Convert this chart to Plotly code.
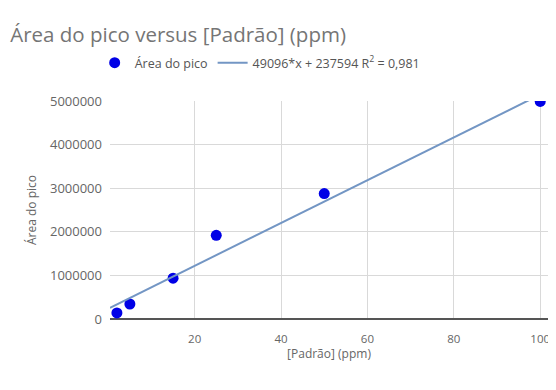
import plotly.graph_objects as go

concentracao = [2, 5, 15, 25, 50, 100]
area_pico = [138000, 344000, 937000, 1920000, 2877000, 4990000]
slope = 49096
intercept = 237594
trend_x = [0.4, 100]
trend_label = "49096*x + 237594 R<sup>2</sup> = 0,981"
y_ticks = [0, 1000000, 2000000, 3000000, 4000000, 5000000]
x_ticks = [20, 40, 60, 80, 100]

font = "Open Sans, sans-serif"

fig = go.Figure()
fig.add_trace(go.Scatter(
    x=concentracao, y=area_pico, mode="markers", name="Área do pico",
    marker=dict(color="#0000e6", size=11),
))
fig.add_trace(go.Scatter(
    x=trend_x, y=[slope * v + intercept for v in trend_x], mode="lines",
    name=trend_label, line=dict(color="#7396c4", width=2),
))

fig.update_layout(
    width=548, height=382,
    margin=dict(l=102, r=6, t=93, b=71),
    paper_bgcolor="white", plot_bgcolor="white",
    font=dict(family=font, color="#555555", size=11),
    title=dict(text="Área do pico versus [Padrão] (ppm)", x=0.004, xanchor="left",
               y=0.929, yanchor="middle",
               font=dict(size=20.5, color="#757575", family=font)),
    legend=dict(orientation="h", x=-0.035, xanchor="left", y=1.174, yanchor="middle",
                font=dict(size=12.5, color="#555555"), itemwidth=30),
    showlegend=True,
)
fig.update_xaxes(
    range=[0.4, 101.8], tickvals=x_ticks, showgrid=True, gridcolor="#d9d9d9",
    zeroline=False, showline=False, tickfont=dict(size=11.5, color="#666666"),
    title=dict(text="[Padrão] (ppm)", font=dict(size=12, color="#666666"), standoff=0),
    ticks="", ticklabelstandoff=11,
)
fig.update_yaxes(
    range=[0, 5000000], tickvals=y_ticks, ticktext=[str(v) for v in y_ticks],
    showgrid=True, gridcolor="#d9d9d9", zeroline=True, zerolinecolor="#555555",
    zerolinewidth=1.5, showline=False, tickfont=dict(size=13, color="#666666"),
    title=dict(text="Área do pico", font=dict(size=12, color="#666666"), standoff=10),
    ticks="", ticklabelstandoff=7,
)

fig.write_html("out.html")
